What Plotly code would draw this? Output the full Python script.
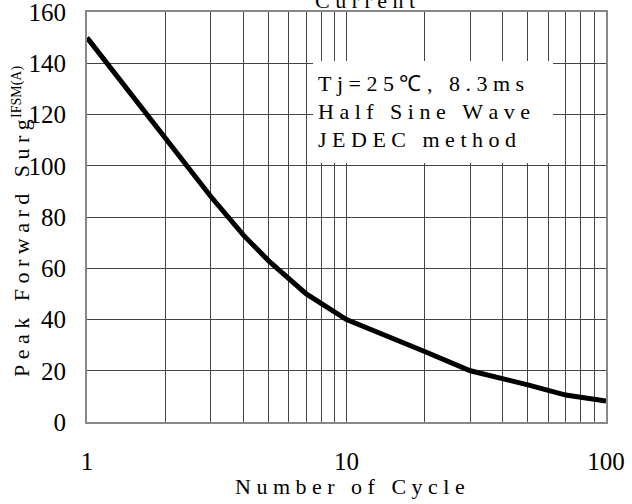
import plotly.graph_objects as go

# Data
cycles = [1, 2, 3, 4, 5, 7, 10, 20, 30, 50, 70, 100]
surge = [150, 111, 88, 73, 63, 50, 40, 27.5, 20, 14.5, 10.5, 8.2]

grid_x = [1, 2, 3, 4, 5, 6, 7, 8, 9, 10, 20, 30, 40, 50, 60, 70, 80, 90, 100]
grid_x_text = ["1", "", "", "", "", "", "", "", "", "10", "", "", "", "", "", "", "", "", "100"]
y_ticks = [0, 20, 40, 60, 80, 100, 120, 140, 160]

FONT = "Liberation Serif"

# plot area in pixels
L, R, T, B = 87, 606, 12, 422
W, H = R - L, B - T


def px(x):
    return (x - L) / W


def py(y):
    return (B - y) / H


def spaced(s):
    return "\u00a0".join(list(s)).replace("\u00a0\u00a0\u00a0", "\u00a0\u00a0\u00a0\u00a0")


fig = go.Figure()
fig.add_trace(go.Scatter(
    x=cycles, y=surge, mode="lines",
    line=dict(color="black", width=5),
    showlegend=False, hoverinfo="skip",
))

fig.update_layout(
    width=632, height=504,
    margin=dict(l=L, r=632 - R, t=T, b=504 - B),
    paper_bgcolor="white", plot_bgcolor="white",
    font=dict(family=FONT, color="black", size=22),
    xaxis=dict(
        type="log", range=[0, 2], automargin=False, ticklabeloverflow="allow",
        tickmode="array", tickvals=grid_x, ticktext=grid_x_text,
        showgrid=True, gridcolor="#444", gridwidth=1,
        showline=True, linecolor="#888", linewidth=2, mirror=True,
        ticks="outside", ticklen=16, tickcolor="rgba(0,0,0,0)",
        tickfont=dict(family=FONT, size=25), zeroline=False,
    ),
    yaxis=dict(
        range=[0, 160], tickmode="array", tickvals=y_ticks,
        automargin=False, ticklabeloverflow="allow",
        showgrid=True, gridcolor="#444", gridwidth=1,
        showline=True, linecolor="#888", linewidth=2, mirror=True,
        ticks="outside", ticklen=14, tickcolor="rgba(0,0,0,0)",
        tickfont=dict(family=FONT, size=25), zeroline=False,
    ),
)

# white box behind the condition text
fig.add_shape(type="rect", xref="paper", yref="paper",
              x0=px(313), x1=px(553), y0=py(163), y1=py(61),
              fillcolor="white", line=dict(width=0), layer="above")

cond_lines = ["Tj=25℃, 8.3ms", "Half Sine Wave", "JEDEC method"]
cond_y = [83, 111, 139]
for txt, yy in zip(cond_lines, cond_y):
    fig.add_annotation(xref="paper", yref="paper", x=px(316), y=py(yy),
                       xanchor="left", yanchor="middle", showarrow=False,
                       text=spaced(txt), font=dict(family=FONT, size=22))

# title (clipped at the top of the page, as in the reference)
fig.add_annotation(xref="paper", yref="paper", x=px(365), y=py(1),
                   xanchor="center", yanchor="middle", showarrow=False,
                   text=spaced("Current"), font=dict(family=FONT, size=22))

# x axis title
fig.add_annotation(xref="paper", yref="paper", x=px(350), y=py(487),
                   xanchor="center", yanchor="middle", showarrow=False,
                   text=spaced("Number of Cycle"), font=dict(family=FONT, size=22))

# y axis title
fig.add_annotation(xref="paper", yref="paper", x=px(21), y=py(248),
                   xanchor="center", yanchor="middle", showarrow=False, textangle=-90,
                   text=spaced("Peak Forward Surg"), font=dict(family=FONT, size=22))
fig.add_annotation(xref="paper", yref="paper", x=px(17), y=py(92),
                   xanchor="center", yanchor="middle", showarrow=False, textangle=-90,
                   text="IFSM(A)", font=dict(family=FONT, size=14))

fig.write_html("out.html")
